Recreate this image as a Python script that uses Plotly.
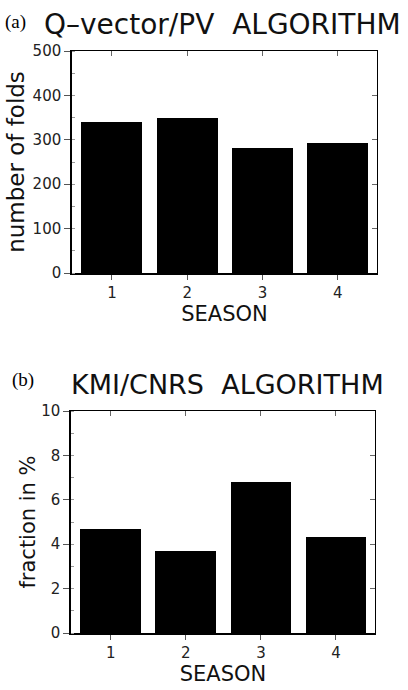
import plotly.graph_objects as go

seasons = [1, 2, 3, 4]
folds_qpv = [339, 348, 282, 293]
fraction_kmi = [4.68, 3.71, 6.78, 4.32]
y_ticks_a = [0, 100, 200, 300, 400, 500]
y_ticks_b = [0, 2, 4, 6, 8, 10]

W, H = 408, 690
SANS = "DejaVu Sans, Verdana, sans-serif"
SERIF = "Liberation Serif, Times New Roman, serif"

def px(x):
    return x / W

def py(y):
    return 1 - y / H

fig = go.Figure()
fig.add_trace(go.Bar(x=seasons, y=folds_qpv, width=0.81, marker=dict(color="black", line=dict(width=0)),
                     xaxis="x", yaxis="y", showlegend=False))
fig.add_trace(go.Bar(x=seasons, y=fraction_kmi, width=0.81, marker=dict(color="black", line=dict(width=0)),
                     xaxis="x2", yaxis="y2", showlegend=False))

xr = [0.47, 4.52]
tickfont = dict(family=SANS, size=15, color="#222")
titlefont = dict(family=SANS, size=21, color="#111")

common_x = dict(range=xr, tickvals=seasons, ticks="outside", ticklen=5, tickwidth=1, tickcolor="#555",
                showline=True, linecolor="black", linewidth=1.5, showgrid=False, zeroline=False,
                automargin=False, tickfont=tickfont, title=dict(text="SEASON", font=titlefont, standoff=2),
                fixedrange=True)
common_y = dict(ticks="outside", ticklen=6, tickwidth=1, tickcolor="#555",
                showline=True, linecolor="black", linewidth=1.5, showgrid=False, zeroline=False,
                automargin=False, tickfont=tickfont, fixedrange=True)
overlay = dict(showticklabels=False, ticks="inside", ticklen=5, tickcolor="#666", showline=True,
               linecolor="black", linewidth=1.2, showgrid=False, zeroline=False, fixedrange=True,
               automargin=False)

xdom_a = [px(72), px(377)]
xdom_b = [px(71), px(375)]
ydom_a = [py(273), py(51)]
ydom_b = [py(633), py(411)]

fig.update_layout(
    width=W, height=H, margin=dict(l=0, r=0, t=0, b=0),
    plot_bgcolor="white", paper_bgcolor="white", bargap=0,
    xaxis=dict(domain=xdom_a, anchor="y", **common_x),
    yaxis=dict(domain=ydom_a, anchor="x", range=[0, 500], tickvals=y_ticks_a,
               minor=dict(tickmode="linear", tick0=0, dtick=50, ticks="inside", ticklen=3, tickcolor="#999"),
               title=dict(text="number of folds", font=dict(family=SANS, size=23, color="#111"), standoff=2),
               **common_y),
    xaxis2=dict(domain=xdom_b, anchor="y2", **common_x),
    yaxis2=dict(domain=ydom_b, anchor="x2", range=[0, 10], tickvals=y_ticks_b,
                minor=dict(tickmode="linear", tick0=0, dtick=1, ticks="inside", ticklen=3, tickcolor="#999"),
                title=dict(text="fraction in %", font=titlefont, standoff=0), **common_y),
    xaxis3=dict(domain=xdom_a, anchor="y", overlaying="x", side="top", range=xr, tickvals=seasons, **overlay),
    yaxis3=dict(domain=ydom_a, anchor="x", overlaying="y", side="right", range=[0, 500],
                tickvals=y_ticks_a, **overlay),
    xaxis4=dict(domain=xdom_b, anchor="y2", overlaying="x2", side="top", range=xr, tickvals=seasons, **overlay),
    yaxis4=dict(domain=ydom_b, anchor="x2", overlaying="y2", side="right", range=[0, 10],
                tickvals=y_ticks_b, **overlay),
)

fig.add_trace(go.Scatter(x=[None], y=[None], xaxis="x3", yaxis="y3", showlegend=False, hoverinfo="skip"))
fig.add_trace(go.Scatter(x=[None], y=[None], xaxis="x4", yaxis="y4", showlegend=False, hoverinfo="skip"))

annotations = [
    dict(text="(a)", x=px(3), y=py(22), xanchor="left", yanchor="middle",
         font=dict(family=SERIF, size=19, color="black")),
    dict(text="Q\u2013vector/PV  ALGORITHM", x=px(42), y=py(24), xanchor="left", yanchor="middle",
         font=dict(family=SANS, size=28, color="#111")),
    dict(text="(b)", x=px(10), y=py(380), xanchor="left", yanchor="middle",
         font=dict(family=SERIF, size=19, color="black")),
    dict(text="KMI/CNRS  ALGORITHM", x=px(69), y=py(384), xanchor="left", yanchor="middle",
         font=dict(family=SANS, size=27, color="#111")),
]
for a in annotations:
    a.update(xref="paper", yref="paper", showarrow=False)
fig.update_layout(annotations=annotations)

fig.write_html("out.html", config={"displayModeBar": False},
               post_script="document.body.style.margin='0px';")
